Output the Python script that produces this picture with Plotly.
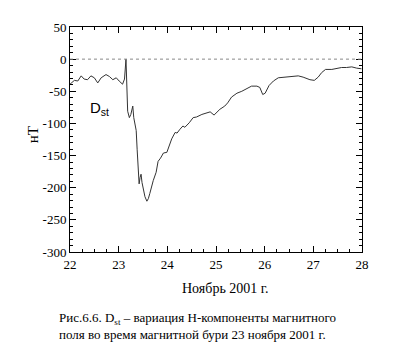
import plotly.graph_objects as go

# Dst index, November 2001 (day of month, nT)
days = [22.00, 22.09, 22.16, 22.23, 22.29, 22.36, 22.43, 22.50, 22.57, 22.64,
        22.74, 22.81, 22.88, 22.95, 23.01, 23.08, 23.12, 23.15, 23.185, 23.22,
        23.25, 23.29, 23.31, 23.36, 23.38, 23.40, 23.42, 23.44, 23.46, 23.48,
        23.51, 23.54, 23.58, 23.61, 23.64, 23.68, 23.71, 23.77, 23.81, 23.86,
        23.92, 23.99, 24.04, 24.09, 24.16, 24.20, 24.26, 24.32, 24.36, 24.45,
        24.53, 24.60, 24.71, 24.81, 24.88, 24.96, 25.08, 25.18, 25.24, 25.32,
        25.43, 25.53, 25.63, 25.73, 25.84, 25.90, 25.96, 26.01, 26.09, 26.18,
        26.28, 26.42, 26.56, 26.69, 26.79, 26.93, 27.02, 27.10, 27.17, 27.25,
        27.38, 27.48, 27.58, 27.68, 27.79, 27.89, 27.99]
dst = [-39, -33, -34, -26, -31, -32, -26, -29, -37, -29,
       -24, -27, -32, -29, -34, -39, -31, 0, -81, -91,
       -86, -73, -91, -111, -141, -176, -194, -184, -179, -192,
       -204, -214, -221, -217, -209, -197, -189, -176, -159, -154,
       -146, -145, -134, -124, -114, -115, -109, -104, -106, -99,
       -91, -90, -86, -83, -82, -87, -78, -73, -68, -59,
       -53, -50, -46, -42, -42, -44, -55, -53, -41, -34,
       -29, -28, -26, -26, -28, -32, -33, -28, -21, -16,
       -16, -14, -13, -13, -12, -14, -15]

x_ticks = [22, 23, 24, 25, 26, 27, 28]
y_ticks = [50, 0, -50, -100, -150, -200, -250, -300]

serif = "Liberation Serif"
sans = "Liberation Sans"

fig = go.Figure()
fig.add_trace(go.Scatter(x=days, y=dst, mode="lines",
                         line=dict(color="#333333", width=1), hoverinfo="skip"))

fig.add_shape(type="line", xref="x", yref="y", x0=22, x1=28, y0=0, y1=0,
              line=dict(color="#888888", width=1, dash="dot"))

axis_common = dict(showline=True, linecolor="black", linewidth=1, mirror="allticks",
                   ticks="inside", ticklen=6, tickcolor="black", tickwidth=1,
                   showgrid=False, zeroline=False,
                   tickfont=dict(family=serif, size=13, color="black"))

fig.update_xaxes(range=[22, 28], tickvals=x_ticks, ticktext=[str(v) for v in x_ticks],
                 minor=dict(dtick=0.25, tick0=22, ticks="inside", ticklen=3,
                            tickcolor="black", showgrid=False),
                 **axis_common)
fig.update_yaxes(range=[-300, 50], tickvals=y_ticks, ticktext=[str(v) for v in y_ticks],
                 minor=dict(dtick=10, tick0=0, ticks="inside", ticklen=3,
                            tickcolor="black", showgrid=False),
                 **axis_common)

fig.add_annotation(text="нТ", xref="paper", yref="paper", x=-0.16, y=0.52,
                   textangle=-90, showarrow=False,
                   font=dict(family=serif, size=15, color="black"))
fig.add_annotation(text="Ноябрь 2001 г.", xref="paper", yref="paper", x=0.53, y=-0.205,
                   showarrow=False, font=dict(family=serif, size=14, color="black"))
fig.add_annotation(text="D<sub>st</sub>", xref="paper", yref="paper", x=0.06, y=0.64,
                   xanchor="left", showarrow=False,
                   font=dict(family=sans, size=15, color="black"))
fig.add_annotation(text="Рис.6.6. D<sub>st</sub> – вариация Н-компоненты магнитного<br>"
                        "поля во время магнитной бури 23 ноября 2001 г.",
                   xref="paper", yref="paper", x=-0.045, y=-0.25, xanchor="left",
                   yanchor="top", align="left", showarrow=False,
                   font=dict(family=serif, size=13, color="black"))

fig.update_layout(width=392, height=356, margin=dict(l=62, r=38, t=12, b=112),
                  paper_bgcolor="white", plot_bgcolor="white", showlegend=False)

fig.write_html("out.html")
